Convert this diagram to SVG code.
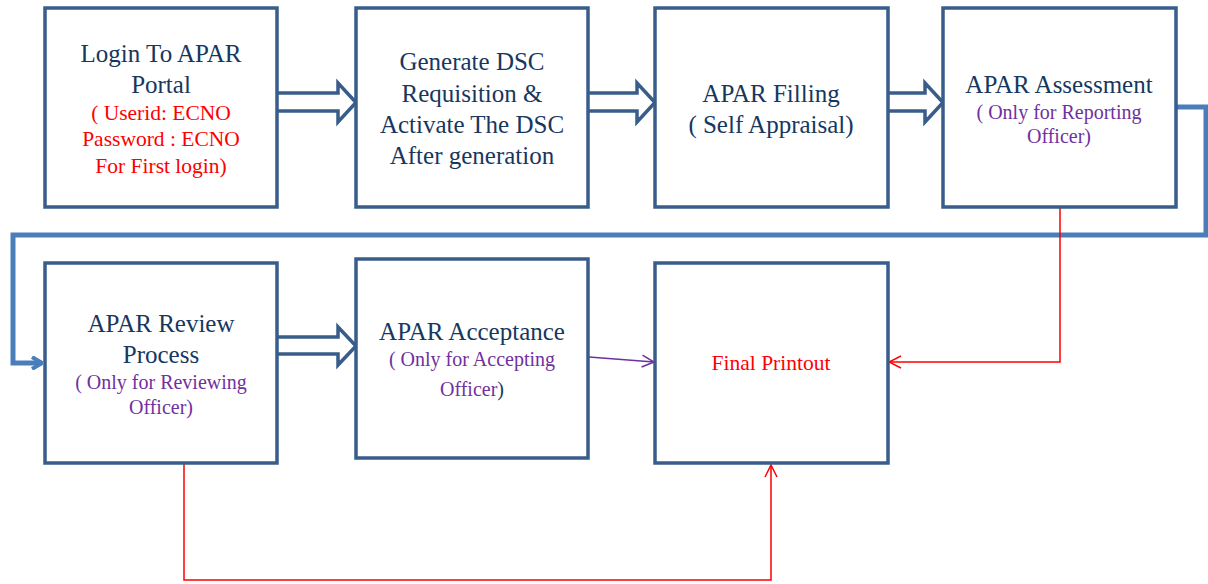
<svg xmlns="http://www.w3.org/2000/svg" width="1208" height="584" viewBox="0 0 1208 584">
<defs>
<style>
.box{fill:#fff;stroke:#385d8a;stroke-width:3.5}
.blk{fill:#fff;stroke:#385d8a;stroke-width:3.5;stroke-linejoin:miter}
.t{fill:#17375e;font-size:25px}
.r{fill:#ff0000;font-size:21.5px}
.p{fill:#7030a0;font-size:20px}
.fin{fill:#ff0000;font-size:21.5px}
</style>
<marker id="mb" markerWidth="12" markerHeight="14" refX="11" refY="7" orient="auto" markerUnits="userSpaceOnUse"><path d="M1,1 L11,7 L1,13" fill="none" stroke="#4a7ebb" stroke-width="4"/></marker>
<marker id="mr" markerWidth="14" markerHeight="14" refX="13" refY="7" orient="auto" markerUnits="userSpaceOnUse"><path d="M1,1 L13,7 L1,13" fill="none" stroke="#ff0000" stroke-width="1.5"/></marker>
<marker id="mp" markerWidth="14" markerHeight="14" refX="13" refY="7" orient="auto" markerUnits="userSpaceOnUse"><path d="M1,1 L13,7 L1,13" fill="none" stroke="#7030a0" stroke-width="1.5"/></marker>
</defs>
<g id="connectors">
<path class="blk" d="M277,93 L338,93 L338,83 L356,102.5 L338,122 L338,111 L277,111"/>
<path class="blk" d="M588,93 L637,93 L637,83 L655,102.5 L637,122 L637,111 L588,111"/>
<path class="blk" d="M888,93 L925,93 L925,83 L943,102.5 L925,122 L925,111 L888,111"/>
<path class="blk" d="M277,337 L338,337 L338,327 L356,346 L338,365 L338,354 L277,354"/>
<path d="M1177,107 L1206,107 L1206,235 L13,235 L13,363 L42,363" fill="none" stroke="#4a7ebb" stroke-width="5" marker-end="url(#mb)"/>
<path d="M1060,208 L1060,362 L889,362" fill="none" stroke="#ff0000" stroke-width="1.5" marker-end="url(#mr)"/>
<path d="M184,464 L184,580 L771,580 L771,465" fill="none" stroke="#ff0000" stroke-width="1.5" marker-end="url(#mr)"/>
<path d="M589,357 L654,362" fill="none" stroke="#7030a0" stroke-width="1.5" marker-end="url(#mp)"/>
</g>
<g font-family="'Liberation Serif', 'DejaVu Serif', serif" text-anchor="middle">
<g id="n1"><rect class="box" x="45" y="8" width="232" height="199"/>
<text class="t" x="161" y="62">Login To APAR</text><text class="t" x="161" y="93">Portal</text>
<text class="r" x="161" y="120">( Userid: ECNO</text><text class="r" x="161" y="146">Password : ECNO</text><text class="r" x="161" y="173">For First login)</text></g>
<g id="n2"><rect class="box" x="356" y="8" width="232" height="199"/>
<text class="t" x="472" y="70">Generate DSC</text><text class="t" x="472" y="102">Requisition &amp;</text><text class="t" x="472" y="133">Activate The DSC</text><text class="t" x="472" y="164">After generation</text></g>
<g id="n3"><rect class="box" x="655" y="8" width="233" height="199"/>
<text class="t" x="771" y="102">APAR Filling</text><text class="t" x="771" y="133">( Self Appraisal)</text></g>
<g id="n4"><rect class="box" x="943" y="8" width="233" height="199"/>
<text class="t" x="1059" y="93">APAR Assessment</text><text class="p" x="1059" y="119">( Only for Reporting</text><text class="p" x="1059" y="143">Officer)</text></g>
<g id="n5"><rect class="box" x="45" y="263" width="232" height="200"/>
<text class="t" x="161" y="332">APAR Review</text><text class="t" x="161" y="363">Process</text><text class="p" x="161" y="389">( Only for Reviewing</text><text class="p" x="161" y="414">Officer)</text></g>
<g id="n6"><rect class="box" x="356" y="259" width="232" height="199"/>
<text class="t" x="472" y="340">APAR Acceptance</text><text class="p" x="472" y="366">( Only for Accepting</text><text class="p" x="472" y="396">Officer<tspan fill="#17375e">)</tspan></text></g>
<g id="n7"><rect class="box" x="655" y="263" width="233" height="200"/>
<text class="fin" x="771" y="370">Final Printout</text></g>
</g>
</svg>
